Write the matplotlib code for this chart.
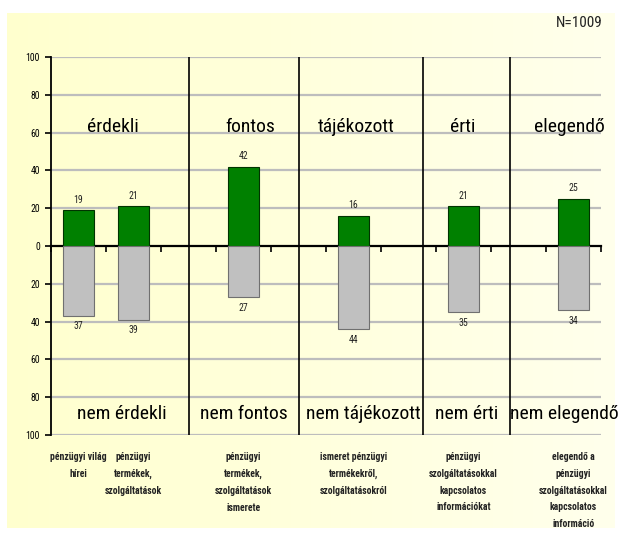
import numpy as np
import matplotlib
matplotlib.use("Agg")
import matplotlib.pyplot as plt
from matplotlib.transforms import blended_transform_factory
from matplotlib.ticker import FuncFormatter

plt.rcParams['font.family'] = ['Roboto Condensed', 'Liberation Sans', 'DejaVu Sans']

# ---- data ----
slots = [0, 1, 3, 5, 7, 9]
positive = [19, 21, 42, 16, 21, 25]
negative = [37, 39, 27, 44, 35, 34]
descriptions = [
    "pénzügyi világ\nhírei",
    "pénzügyi\ntermékek,\nszolgáltatások",
    "pénzügyi\ntermékek,\nszolgáltatások\nismerete",
    "ismeret pénzügyi\ntermékekről,\nszolgáltatásokról",
    "pénzügyi\nszolgáltatásokkal\nkapcsolatos\ninformációkat",
    "elegendő a\npénzügyi\nszolgáltatásokkal\nkapcsolatos\ninformáció",
]
top_labels = ["érdekli", "fontos", "tájékozott", "érti", "elegendő"]
top_label_x = [0.62, 3.13, 5.05, 6.98, 8.93]
bottom_labels = ["nem érdekli", "nem fontos", "nem tájékozott", "nem érti", "nem elegendő"]
bottom_label_x = [0.78, 3.0, 5.18, 7.05, 8.84]
dividers = [2, 4, 6.26, 7.85]
yticks = [-100, -80, -60, -40, -20, 0, 20, 40, 60, 80, 100]
n_text = "N=1009"

W, H = 620, 533
fig = plt.figure(figsize=(W / 100, H / 100), dpi=100)
fig.patch.set_facecolor('white')

# background gradient panel
bg = fig.add_axes([7 / W, 1 - 528 / H, (615 - 7) / W, (528 - 13) / H])
c1 = np.array([255, 255, 206]) / 255
c2 = np.array([255, 255, 236]) / 255
t = np.linspace(0, 1, 256)
grad = (c1[None, :] * (1 - t[:, None]) + c2[None, :] * t[:, None])[None, :, :]
bg.imshow(grad, aspect='auto', extent=[0, 1, 0, 1])
bg.set_axis_off()

ax = fig.add_axes([51 / W, 1 - 435 / H, 550 / W, 378 / H])
ax.patch.set_alpha(0)
ax.set_xlim(-0.5, 9.5)
ax.set_ylim(-100, 100)

for yv in yticks:
    if yv != 0:
        ax.axhline(yv, color='#BDBDBD', lw=1.6, zorder=1)

ax.vlines(dividers, -100, 100, color='black', lw=1.2, zorder=2)

ax.bar(slots, positive, width=0.55, color='#008000', edgecolor='#003300', lw=0.8, zorder=3)
ax.bar(slots, [-v for v in negative], width=0.55, color='#C0C0C0', edgecolor='#707070', lw=0.8, zorder=3)

for x, v in zip(slots, positive):
    ax.annotate(str(v), (x, v), xytext=(0, 4), textcoords='offset points',
                ha='center', va='bottom', fontsize=7, color='#222222')
for x, v in zip(slots, negative):
    ax.annotate(str(v), (x, -v), xytext=(0, -4), textcoords='offset points',
                ha='center', va='top', fontsize=7, color='#222222')

for x, s in zip(top_label_x, top_labels):
    ax.text(x, 63, s, ha='center', va='center', fontsize=14, color='black')
for x, s in zip(bottom_label_x, bottom_labels):
    ax.text(x, -89, s, ha='center', va='center', fontsize=14, color='black')

tr = blended_transform_factory(ax.transData, ax.transAxes)
for x, s in zip(slots, descriptions):
    ax.text(x, -0.045, s, transform=tr, ha='center', va='top', fontsize=7,
            fontweight='bold', color='#222222', linespacing=1.85)

# spines / ticks
for sp in ['top', 'right']:
    ax.spines[sp].set_visible(False)
ax.spines['left'].set_linewidth(1.3)
ax.spines['bottom'].set_position(('data', 0))
ax.spines['bottom'].set_linewidth(1.6)
ax.set_yticks(yticks)
ax.yaxis.set_major_formatter(FuncFormatter(lambda v, p: f"{abs(int(v))}"))
ax.tick_params(axis='y', direction='out', length=4, width=1.2, labelsize=7, pad=4)
ax.set_xticks(np.arange(-0.5, 10, 1))
ax.set_xticklabels([])
ax.tick_params(axis='x', direction='out', length=4, width=1.2)

fig.text(603 / W, 1 - 23 / H, n_text, ha='right', va='center', fontsize=11, color='#222222')

fig.savefig('out.png', dpi=100)
